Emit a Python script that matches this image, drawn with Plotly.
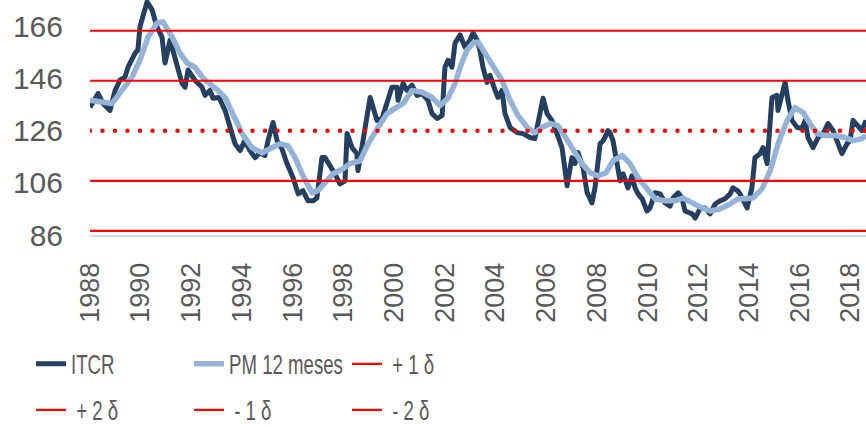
import plotly.graph_objects as go

# ITCR: fecha (año decimal) y valor
ITCR_T = [1988.00, 1988.32, 1988.51, 1988.79, 1988.99, 1989.18, 1989.38, 1989.50, 1989.78, 1989.89,
          1989.97, 1990.25, 1990.45, 1990.64, 1990.84, 1990.96, 1991.16, 1991.35, 1991.63, 1991.75,
          1991.87, 1992.14, 1992.42, 1992.54, 1992.73, 1992.85, 1993.09, 1993.33, 1993.52, 1993.72,
          1993.92, 1994.11, 1994.31, 1994.51, 1994.71, 1994.90, 1995.02, 1995.22, 1995.38, 1995.57,
          1995.77, 1996.01, 1996.21, 1996.40, 1996.60, 1996.80, 1996.95, 1997.15, 1997.27, 1997.47,
          1997.66, 1997.86, 1998.06, 1998.14, 1998.34, 1998.53, 1998.57, 1998.77, 1999.05, 1999.24,
          1999.32, 1999.52, 1999.72, 1999.91, 2000.11, 2000.15, 2000.35, 2000.50, 2000.70, 2000.90,
          2001.10, 2001.33, 2001.49, 2001.69, 2001.89, 2002.00, 2002.12, 2002.28, 2002.40, 2002.60,
          2002.79, 2002.99, 2003.11, 2003.27, 2003.38, 2003.50, 2003.66, 2003.78, 2003.98, 2004.09,
          2004.25, 2004.37, 2004.57, 2004.84, 2005.08, 2005.36, 2005.55, 2005.75, 2005.87, 2006.03,
          2006.22, 2006.42, 2006.62, 2006.82, 2007.01, 2007.13, 2007.25, 2007.45, 2007.61, 2007.80,
          2007.92, 2008.12, 2008.24, 2008.39, 2008.43, 2008.51, 2008.63, 2008.79, 2008.91, 2009.03,
          2009.22, 2009.38, 2009.50, 2009.62, 2009.78, 2009.97, 2010.09, 2010.29, 2010.49, 2010.68,
          2010.88, 2011.00, 2011.20, 2011.35, 2011.47, 2011.75, 2011.87, 2012.06, 2012.26, 2012.46,
          2012.66, 2012.85, 2013.05, 2013.25, 2013.36, 2013.56, 2013.64, 2013.92, 2014.11, 2014.23,
          2014.43, 2014.55, 2014.71, 2014.90, 2015.10, 2015.14, 2015.30, 2015.42, 2015.53, 2015.69,
          2015.89, 2016.09, 2016.21, 2016.32, 2016.52, 2016.72, 2016.92, 2017.11, 2017.31, 2017.47,
          2017.66, 2017.86, 2017.98, 2018.10, 2018.30, 2018.45, 2018.61]
ITCR_V = [135.0, 140.3, 136.5, 133.8, 141.5, 145.4, 146.6, 150.4, 155.8, 157.0,
          165.9, 175.5, 172.4, 165.9, 162.0, 152.0, 160.8, 154.3, 144.2, 142.7,
          149.3, 145.4, 142.7, 139.6, 141.5, 138.5, 138.8, 133.8, 127.3, 121.0,
          118.4, 122.2, 118.4, 115.7, 117.6, 116.5, 122.2, 129.2, 122.2, 119.1,
          113.4, 108.0, 101.8, 103.0, 99.1, 99.1, 100.2, 115.7, 115.7, 112.6,
          109.5, 105.6, 106.8, 125.0, 119.5, 117.2, 110.7, 122.2, 138.8, 132.6,
          130.0, 130.7, 137.7, 142.7, 142.7, 137.7, 144.2, 141.5, 143.5, 139.6,
          140.3, 137.7, 132.6, 130.7, 131.9, 150.4, 153.1, 150.4, 159.7, 162.8,
          158.1, 160.8, 163.5, 160.8, 157.0, 150.4, 144.6, 147.3, 141.5, 138.8,
          141.5, 132.6, 127.3, 125.3, 124.9, 123.4, 123.0, 132.6, 138.5, 132.6,
          130.0, 124.9, 119.5, 104.9, 115.7, 113.4, 117.6, 111.8, 102.2, 98.3,
          104.1, 121.0, 122.2, 124.9, 126.1, 125.3, 122.2, 113.4, 106.8, 109.5,
          104.1, 108.7, 104.1, 101.8, 99.9, 95.2, 96.4, 102.2, 101.8, 98.3,
          97.1, 100.2, 102.2, 100.2, 95.2, 94.1, 92.5, 96.0, 96.4, 94.1,
          97.9, 99.1, 99.9, 101.8, 104.1, 102.9, 101.8, 96.4, 104.1, 115.7,
          117.2, 119.5, 113.4, 138.8, 139.6, 133.8, 140.3, 144.6, 137.7, 130.0,
          127.3, 126.9, 130.0, 123.4, 119.5, 123.4, 124.9, 128.8, 126.1, 122.2,
          117.2, 121.0, 122.2, 130.0, 128.0, 126.1, 130.0]

# Promedio móvil de 12 meses
PM_T = [1988.00, 1988.47, 1988.87, 1989.26, 1989.66, 1989.97, 1990.29, 1990.64, 1990.88, 1991.24,
        1991.55, 1991.83, 1992.14, 1992.46, 1992.82, 1993.05, 1993.33, 1993.64, 1994.00, 1994.39,
        1994.79, 1995.18, 1995.50, 1995.81, 1996.09, 1996.40, 1996.76, 1996.99, 1997.27, 1997.59,
        1997.98, 1998.26, 1998.65, 1998.97, 1999.36, 1999.72, 2000.03, 2000.35, 2000.70, 2001.10,
        2001.49, 2001.81, 2002.12, 2002.40, 2002.60, 2002.87, 2003.11, 2003.31, 2003.58, 2003.90,
        2004.25, 2004.57, 2004.88, 2005.28, 2005.55, 2005.83, 2006.15, 2006.46, 2006.74, 2007.05,
        2007.41, 2007.73, 2008.04, 2008.36, 2008.63, 2008.99, 2009.30, 2009.62, 2009.97, 2010.29,
        2010.68, 2011.08, 2011.39, 2011.75, 2012.14, 2012.46, 2012.85, 2013.25, 2013.56, 2013.84,
        2014.15, 2014.51, 2014.83, 2015.14, 2015.50, 2015.81, 2016.13, 2016.40, 2016.68, 2016.99,
        2017.39, 2017.78, 2018.10, 2018.45, 2018.61]
PM_V = [137.7, 136.9, 136.5, 141.5, 146.6, 153.1, 162.0, 167.4, 167.8, 162.0,
        155.8, 152.0, 150.4, 146.2, 143.5, 141.5, 138.8, 132.6, 124.9, 119.5,
        117.6, 119.5, 121.0, 120.3, 115.7, 108.7, 102.2, 103.0, 106.1, 109.5,
        111.4, 113.4, 114.5, 121.0, 127.3, 132.6, 134.6, 136.5, 141.5, 140.8,
        138.8, 135.7, 138.5, 144.2, 150.4, 157.0, 159.7, 160.1, 155.8, 151.2,
        145.4, 137.7, 131.9, 126.9, 125.3, 127.3, 128.8, 128.0, 123.4, 118.4,
        113.4, 109.9, 108.7, 109.9, 114.5, 116.5, 113.4, 108.0, 103.7, 99.9,
        99.1, 99.1, 100.2, 98.3, 96.4, 95.2, 96.0, 97.9, 99.9, 99.9,
        100.2, 103.7, 110.7, 121.0, 130.0, 134.9, 133.0, 128.8, 124.9, 124.2,
        124.2, 123.4, 122.2, 123.0, 124.2]

# Media y bandas de desviación estándar
MEDIA = 126.0
BANDA_NOMBRES = ["+ 1 δ", "+ 2 δ", "- 1 δ", "- 2 δ"]
BANDA_VALORES = [145.2, 164.4, 106.8, 87.6]

Y_TICKS = [86, 106, 126, 146, 166]
X_TICKS = [1988, 1990, 1992, 1994, 1996, 1998, 2000, 2002, 2004, 2006, 2008,
           2010, 2012, 2014, 2016, 2018]

GRIS = "#595959"
AZUL_OSCURO = "#243F60"
AZUL_CLARO = "#95B3D7"
ROJO = "#FF0000"

x_ini, x_fin = ITCR_T[0], ITCR_T[-1]

fig = go.Figure()
fig.add_trace(go.Scatter(x=ITCR_T, y=ITCR_V, mode="lines", name="ITCR",
                         line=dict(color=AZUL_OSCURO, width=5), legend="legend"))
fig.add_trace(go.Scatter(x=PM_T, y=PM_V, mode="lines", name="PM 12 meses",
                         line=dict(color=AZUL_CLARO, width=5.5), legend="legend"))
for nombre, valor in zip(BANDA_NOMBRES, BANDA_VALORES):
    fig.add_trace(go.Scatter(x=[x_ini, x_fin], y=[valor, valor], mode="lines",
                             name="\u00a0" + nombre,
                             line=dict(color=ROJO, width=2.2),
                             legend="legend" if nombre == "+ 1 δ" else "legend2"))
fig.add_trace(go.Scatter(x=[x_ini, x_fin], y=[MEDIA, MEDIA], mode="lines",
                         name="Media", showlegend=False,
                         line=dict(color=ROJO, width=4.5, dash="0px,12.5px")))

LEG_FONT = dict(family="Liberation Sans, Arial, sans-serif", size=27, color=GRIS)

fig.update_layout(
    width=866, height=427,
    margin=dict(l=90, r=0, t=0, b=192, autoexpand=False),
    paper_bgcolor="white", plot_bgcolor="white",
    font=dict(family="Liberation Sans, Arial, sans-serif", color=GRIS),
    xaxis=dict(range=[x_ini, x_fin], tickvals=X_TICKS, ticktext=[str(v) for v in X_TICKS],
               tickangle=-90, tickfont=dict(size=27, color=GRIS),
               showgrid=False, zeroline=False, showline=True, linecolor="#D9D9D9",
               linewidth=2, ticks="", ticklabelstandoff=15),
    yaxis=dict(range=[86, 176.2], tickvals=Y_TICKS, ticktext=[str(v) for v in Y_TICKS],
               tickfont=dict(size=30, color=GRIS), showgrid=False, zeroline=False,
               showline=False, ticks="", ticklabelstandoff=26),
    legend=dict(orientation="h", x=-0.076, xanchor="left", y=-0.545, yanchor="middle",
                entrywidth=113, entrywidthmode="pixels", font=LEG_FONT,
                bgcolor="rgba(0,0,0,0)", traceorder="normal", itemclick=False),
    legend2=dict(orientation="h", x=-0.076, xanchor="left", y=-0.76, yanchor="middle",
                 entrywidth=113, entrywidthmode="pixels", font=LEG_FONT,
                 bgcolor="rgba(0,0,0,0)", traceorder="normal", itemclick=False),
    showlegend=True,
)

# Ajustes finales de estilo: puntos redondos en la media, uniones suaves,
# texto de leyenda estrecho y filas de la leyenda en su altura final
post = """
(function(){
  var gd = document.getElementById('{plot_id}');
  var st = document.createElement('style');
  st.textContent = 'text.legendtext, text.legend2text{transform-box:fill-box;transform-origin:left center;transform:scaleX(0.69);}';
  document.head.appendChild(st);
  function ajustar(){
    gd.querySelectorAll('path.js-line').forEach(function(p){
      p.style.strokeLinejoin = 'round';
      var d = p.style.strokeDasharray;
      if (d && d !== 'none') { p.style.strokeLinecap = 'round'; }
    });
    [['legend', 'legendtext', 365], ['legend2', 'legend2text', 411]].forEach(function(par){
      var g = gd.querySelector('g.' + par[0]);
      if (!g) { return; }
      var t = g.querySelector('text.' + par[1]);
      if (!t) { return; }
      var r = t.getBoundingClientRect();
      var base = gd.getBoundingClientRect();
      var dy = par[2] - (r.top - base.top + r.height / 2);
      var m = /translate\\(\\s*([-\\d.e]+)[\\s,]+([-\\d.e]+)\\s*\\)/.exec(g.getAttribute('transform') || '');
      if (!m) { return; }
      g.setAttribute('transform', 'translate(' + m[1] + ',' + (parseFloat(m[2]) + dy).toFixed(2) + ')');
    });
  }
  ajustar();
  gd.on('plotly_afterplot', ajustar);
})();
"""

fig.write_html("out.html", post_script=post)
